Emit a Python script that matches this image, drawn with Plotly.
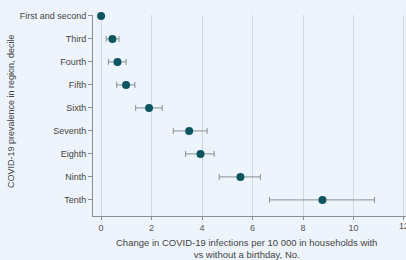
import plotly.graph_objects as go

deciles = ["First and second", "Third", "Fourth", "Fifth", "Sixth",
           "Seventh", "Eighth", "Ninth", "Tenth"]
estimate = [0.0, 0.45, 0.65, 0.99, 1.90, 3.49, 3.94, 5.52, 8.77]
ci_low = [0.0, 0.20, 0.29, 0.62, 1.37, 2.86, 3.35, 4.68, 6.67]
ci_high = [0.0, 0.71, 0.99, 1.34, 2.42, 4.20, 4.48, 6.31, 10.83]
x_ticks = [0, 2, 4, 6, 8, 10, 12]
x_title = "Change in COVID-19 infections per 10 000 in households with<br>vs without a birthday, No."
y_title = "COVID-19 prevalence in region, decile"

err_plus = [h - e for h, e in zip(ci_high, estimate)]
err_minus = [e - l for e, l in zip(estimate, ci_low)]
show_err = [h > l for h, l in zip(ci_high, ci_low)]
err_plus = [p if s else None for p, s in zip(err_plus, show_err)]
err_minus = [m if s else None for m, s in zip(err_minus, show_err)]

bg = "#EEF4FB"
font_family = "Liberation Sans Narrow, Liberation Sans, Arial, sans-serif"

fig = go.Figure()
fig.add_trace(go.Scatter(
    x=estimate, y=deciles, mode="markers",
    marker=dict(color="#0B5560", size=8),
    error_x=dict(type="data", symmetric=False, array=err_plus,
                 arrayminus=err_minus, color="#8A8F96", thickness=1, width=3),
    cliponaxis=False, showlegend=False,
))

fig.update_layout(
    width=406, height=260,
    margin=dict(l=93, r=0, t=15, b=44),
    paper_bgcolor=bg, plot_bgcolor=bg,
    font=dict(family=font_family, size=9, color="#444"),
    xaxis=dict(
        range=[-0.32, 12.08], tickvals=x_ticks, ticktext=[str(v) for v in x_ticks],
        showgrid=True, gridcolor="#D3D8E0", gridwidth=1,
        zeroline=False, showline=True, linecolor="#8A8F96", linewidth=1,
        ticks="outside", ticklen=3, tickcolor="#8A8F96",
        tickfont=dict(size=9, color="#555"), automargin=False,
    ),
    yaxis=dict(
        type="category", categoryorder="array", categoryarray=deciles,
        range=[8.7, -0.04], showgrid=False, zeroline=False,
        showline=True, linecolor="#8A8F96", linewidth=1,
        ticks="outside", ticklen=4, tickcolor="#8A8F96",
        tickfont=dict(size=9, color="#444"), automargin=False,
    ),
    annotations=[
        dict(text=x_title, xref="paper", yref="paper", x=0.49, y=-0.095,
             xanchor="center", yanchor="top", showarrow=False,
             font=dict(size=9.5, color="#444"), align="center"),
        dict(text=y_title, xref="paper", yref="paper", x=-0.262, y=0.522,
             xanchor="center", yanchor="middle", textangle=-90, showarrow=False,
             font=dict(size=9, color="#444")),
        dict(text=str(x_ticks[-1]), xref="x", yref="paper", x=x_ticks[-1], y=0,
             yshift=-3, xanchor="center", yanchor="top", showarrow=False,
             font=dict(size=9, color="#555")),
    ],
)

fig.write_html(
    "out.html",
    config={"displayModeBar": False},
    post_script="document.body.style.margin='0';document.body.style.background='#EEF4FB';",
)
